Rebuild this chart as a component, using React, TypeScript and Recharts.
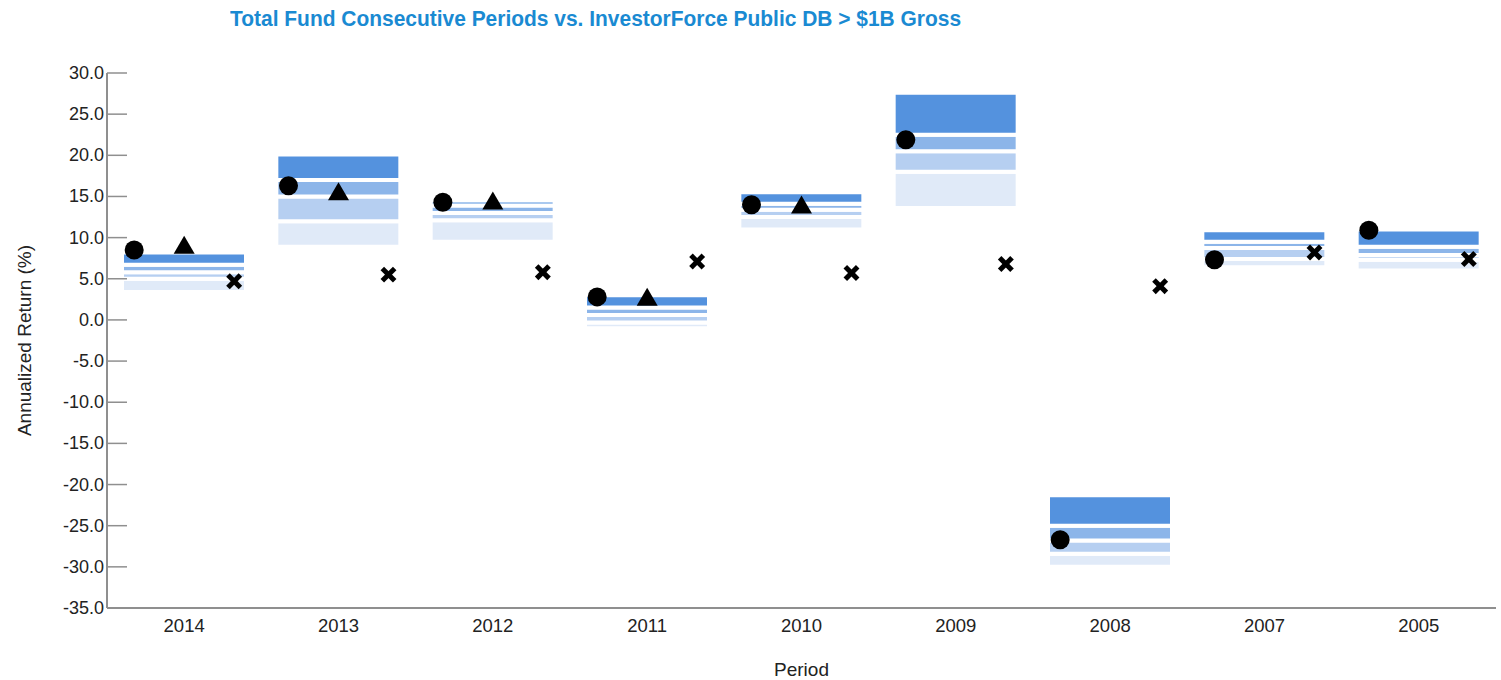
import React from 'react';
import { Bar, ComposedChart, Line, XAxis, YAxis } from 'recharts';

const PERIODS = ['2014', '2013', '2012', '2011', '2010', '2009', '2008', '2007', '2005'];
// universe percentiles (5th = top of box, 95th = bottom)
const P5 = [8.2, 20.1, 14.5, 3.0, 15.5, 27.6, -21.3, 10.9, 11.0];
const P25 = [6.7, 17.0, 13.9, 1.5, 14.1, 22.5, -25.0, 9.5, 8.9];
const P50 = [5.8, 15.0, 13.0, 0.6, 13.4, 20.5, -26.8, 8.75, 7.9];
const P75 = [5.0, 12.0, 12.1, -0.3, 12.5, 18.0, -28.4, 7.4, 7.3];
const P95 = [3.4, 8.9, 9.5, -1.0, 11.0, 13.6, -30.0, 6.4, 6.0];
const FUND = [8.5, 16.3, 14.3, 2.8, 14.0, 21.9, -26.7, 7.3, 10.9];
const POLICY = [9.0, 15.5, 14.4, 2.7, 13.9, null, null, null, null];
const BENCH = [4.7, 5.5, 5.8, 7.1, 5.7, 6.8, 4.1, 8.2, 7.4];
const Y_TICKS = [30, 25, 20, 15, 10, 5, 0, -5, -10, -15, -20, -25, -30, -35];

const AXIS_GREY = '#8f8f8f';
const BAND_COLORS = ['#5492de', '#8cb5e9', '#b6cff1', '#e0eaf8'];

const rows = PERIODS.map((period, i) => ({
  period,
  q1: [P25[i], P5[i]],
  q2: [P50[i], P25[i]],
  q3: [P75[i], P50[i]],
  q4: [P95[i], P75[i]],
  fund: FUND[i],
  policy: POLICY[i],
  bench: BENCH[i],
}));

function FundDot(props: any) {
  const { cx, cy, value } = props;
  if (value == null || cy == null) return <g />;
  return <circle cx={cx - 50} cy={cy} r={9.5} fill="#000" />;
}

function PolicyDot(props: any) {
  const { cx, cy, value } = props;
  if (value == null || cy == null) return <g />;
  return <polygon points={`${cx},${cy - 10} ${cx - 10.5},${cy + 8} ${cx + 10.5},${cy + 8}`} fill="#000" />;
}

function BenchDot(props: any) {
  const { cx, cy, value } = props;
  if (value == null || cy == null) return <g />;
  const x = cx + 50;
  const d = 6.2;
  return (
    <g stroke="#000" strokeWidth={5}>
      <line x1={x - d} y1={cy - d} x2={x + d} y2={cy + d} />
      <line x1={x - d} y1={cy + d} x2={x + d} y2={cy - d} />
    </g>
  );
}

// label outside, tick mark pointing into the plot
function YTick(props: any) {
  const { x, y, payload } = props;
  return (
    <g>
      <line x1={x + 3} x2={x + 23} y1={y} y2={y} stroke={AXIS_GREY} strokeWidth={1.5} />
      <text x={x} y={y} dy={6} textAnchor="end" fontSize={18} fill="#222">
        {Number(payload.value).toFixed(1)}
      </text>
    </g>
  );
}

export default function App() {
  return (
    <div style={{ position: 'absolute', left: 0, top: 0, width: 1501, height: 680, fontFamily: '"Liberation Sans", Arial, sans-serif' }}>
      <div style={{
        position: 'absolute', left: 230, top: 8, fontWeight: 700, fontSize: 22, lineHeight: 1,
        color: '#1a8ad2', whiteSpace: 'nowrap', transform: 'scaleX(0.952)', transformOrigin: 'left top',
      }}>
        Total Fund Consecutive Periods vs. InvestorForce Public DB &gt; $1B Gross
      </div>
      <ComposedChart
        width={1501}
        height={680}
        data={rows}
        margin={{ top: 73, right: 5, bottom: 0, left: 0 }}
        barGap={-124}
      >
        <XAxis
          dataKey="period"
          tickLine={false}
          tickSize={0}
          tickMargin={11}
          height={72}
          axisLine={{ stroke: AXIS_GREY, strokeWidth: 2 }}
          tick={{ fontSize: 18.5, fill: '#222' }}
          label={{ value: 'Period', position: 'insideBottom', offset: 4, fontSize: 19, fill: '#222' }}
        />
        <XAxis xAxisId="top" orientation="top" dataKey="period" tick={false} tickLine={false} height={0}
          axisLine={{ stroke: AXIS_GREY, strokeWidth: 2 }} />
        <YAxis
          type="number"
          domain={[-35, 30]}
          ticks={Y_TICKS}
          interval={0}
          width={107}
          tickSize={0}
          tickMargin={3}
          tickLine={false}
          axisLine={{ stroke: AXIS_GREY, strokeWidth: 2 }}
          tick={<YTick />}
          label={{ value: 'Annualized Return (%)', angle: -90, position: 'insideLeft', offset: 24, fontSize: 19, fill: '#222', style: { textAnchor: 'middle' } }}
        />
        <YAxis yAxisId="right" orientation="right" type="number" domain={[-35, 30]} tick={false} tickLine={false} width={0}
          axisLine={{ stroke: AXIS_GREY, strokeWidth: 2 }} />
        <Bar dataKey="q4" barSize={124} fill={BAND_COLORS[3]} stroke="#fff" strokeWidth={4} isAnimationActive={false} />
        <Bar dataKey="q3" barSize={124} fill={BAND_COLORS[2]} stroke="#fff" strokeWidth={4} isAnimationActive={false} />
        <Bar dataKey="q2" barSize={124} fill={BAND_COLORS[1]} stroke="#fff" strokeWidth={4} isAnimationActive={false} />
        <Bar dataKey="q1" barSize={124} fill={BAND_COLORS[0]} stroke="#fff" strokeWidth={4} isAnimationActive={false} />
        <Line dataKey="policy" stroke="none" dot={<PolicyDot />} activeDot={false} isAnimationActive={false} />
        <Line dataKey="bench" stroke="none" dot={<BenchDot />} activeDot={false} isAnimationActive={false} />
        <Line dataKey="fund" stroke="none" dot={<FundDot />} activeDot={false} isAnimationActive={false} />
      </ComposedChart>
    </div>
  );
}
